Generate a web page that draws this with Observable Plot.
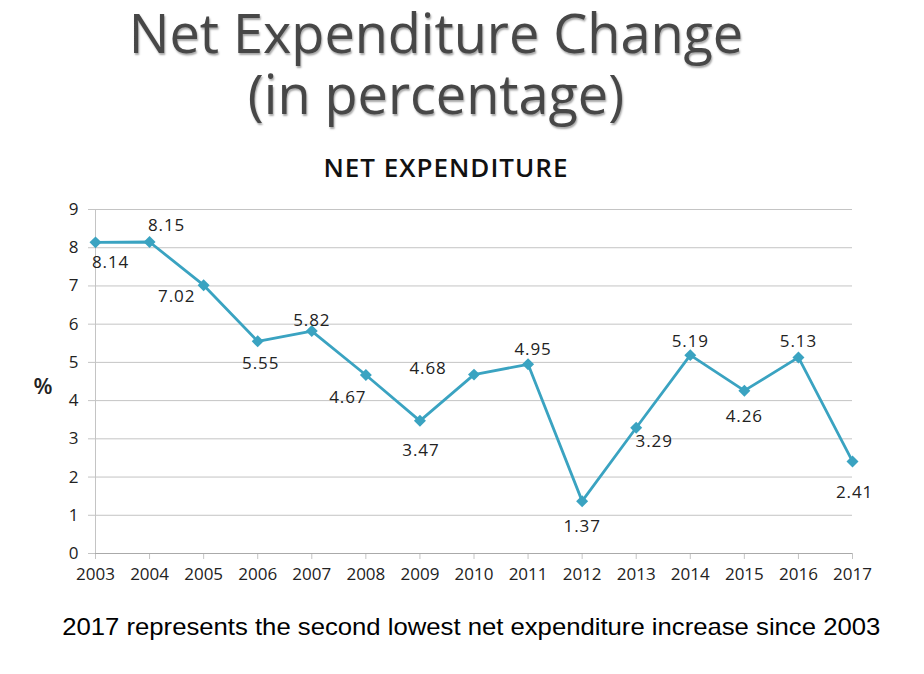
<!DOCTYPE html>
<html>
<head>
<meta charset="utf-8">
<script src="https://cdn.jsdelivr.net/npm/d3@7"></script>
<script src="https://cdn.jsdelivr.net/npm/@observablehq/plot@0.6"></script>
<style>
  html, body { margin: 0; padding: 0; background: #fff; }
  #page { position: relative; width: 924px; height: 674px; overflow: hidden; }
  .title { position: absolute; left: 0; width: 872px; text-align: center;
    font-family: "Open Sans", sans-serif; font-size: 54px; line-height: 62px; height: 62px; color: #474747;
    text-shadow: 1px 2px 2px rgba(0,0,0,0.35); }
  #t1 { top: 1px; }
  #t2 { top: 62px; }
  #subtitle { position: absolute; left: 0; top: 151px; width: 892px; text-align: center;
    font-family: "Open Sans", sans-serif; font-weight: 600; font-size: 26px; line-height: 32px; color: #111; letter-spacing: 1px; }
  #chart { position: absolute; left: 0; top: 185px; }
  #caption { position: absolute; left: 0; top: 611px; width: 943px; text-align: center;
    font-family: "Liberation Sans", Arial, sans-serif; font-size: 24px; line-height: 32px; color: #000; }
  #caption span { display: inline-block; transform: scaleX(1.07); transform-origin: center; }
</style>
</head>
<body>
<div id="page">
  <div class="title" id="t1">Net Expenditure Change</div>
  <div class="title" id="t2">(in percentage)</div>
  <div id="subtitle">NET EXPENDITURE</div>
  <div id="chart"></div>
  <div id="caption"><span>2017 represents the second lowest net expenditure increase since 2003</span></div>
</div>
<script>
const years = [2003, 2004, 2005, 2006, 2007, 2008, 2009, 2010, 2011, 2012, 2013, 2014, 2015, 2016, 2017];
const values = [8.14, 8.15, 7.02, 5.55, 5.82, 4.67, 3.47, 4.68, 4.95, 1.37, 3.29, 5.19, 4.26, 5.13, 2.41];
const yTicks = [0, 1, 2, 3, 4, 5, 6, 7, 8, 9];

const data = years.map((year, i) => ({year, value: values[i]}));

// label placement offsets (pixels) relative to each point
const labelOffsets = [
  [15, 20], [17, -16], [-27, 11], [3, 22], [0, -10], [-18, 23], [1, 30], [-46, -6],
  [5, -15], [0, 25], [18, 14], [0, -14], [0, 26], [0, -16], [2, 31]
];

const lineColor = "#3aa3c1";
const gridColor = "#c4c4c4";

const labelMarks = data.map((d, i) => Plot.text([d], {
  x: "year", y: "value", text: d => d.value.toFixed(2),
  dx: labelOffsets[i][0], dy: labelOffsets[i][1],
  fontSize: 17, fill: "#222", fontFamily: "Open Sans",
  render(index, scales, values, dims, ctx, next) {
    const g = next(index, scales, values, dims, ctx);
    g.setAttribute("letter-spacing", "0.9px");
    return g;
  }
}));

const chart = Plot.plot({
  width: 924,
  height: 420,
  marginTop: 24,
  marginBottom: 52,
  marginLeft: 95,
  marginRight: 72,
  style: {fontFamily: "Open Sans", fontSize: "17px", color: "#222", background: "transparent"},
  x: {type: "linear", domain: [2003, 2017], ticks: years, tickFormat: d => String(d)},
  y: {domain: [0, 9], ticks: yTicks},
  marks: [
    Plot.ruleY(yTicks.filter(t => t > 0), {stroke: gridColor, strokeWidth: 1}),
    Plot.axisY({ticks: yTicks, tickSize: 7, tickPadding: 10, stroke: gridColor, label: null, fontSize: 17}),
    Plot.axisX({ticks: years, tickSize: 6, tickPadding: 8, stroke: gridColor, label: null, fontSize: 17, tickFormat: d => String(d)}),
    Plot.ruleX([2003], {stroke: gridColor}),
    Plot.ruleY([0], {stroke: "#aaaaaa"}),
    Plot.line(data, {x: "year", y: "value", stroke: lineColor, strokeWidth: 2.8}),
    Plot.dot(data, {x: "year", y: "value", symbol: "diamond2", r: 5.4, fill: lineColor, stroke: "none"}),
    ...labelMarks,
    Plot.text(["%"], {frameAnchor: "left", dx: -62, dy: 5, fontSize: 22, fontWeight: 600, fill: "#222", fontFamily: "Open Sans"})
  ]
});
document.getElementById("chart").appendChild(chart);
</script>
</body>
</html>
